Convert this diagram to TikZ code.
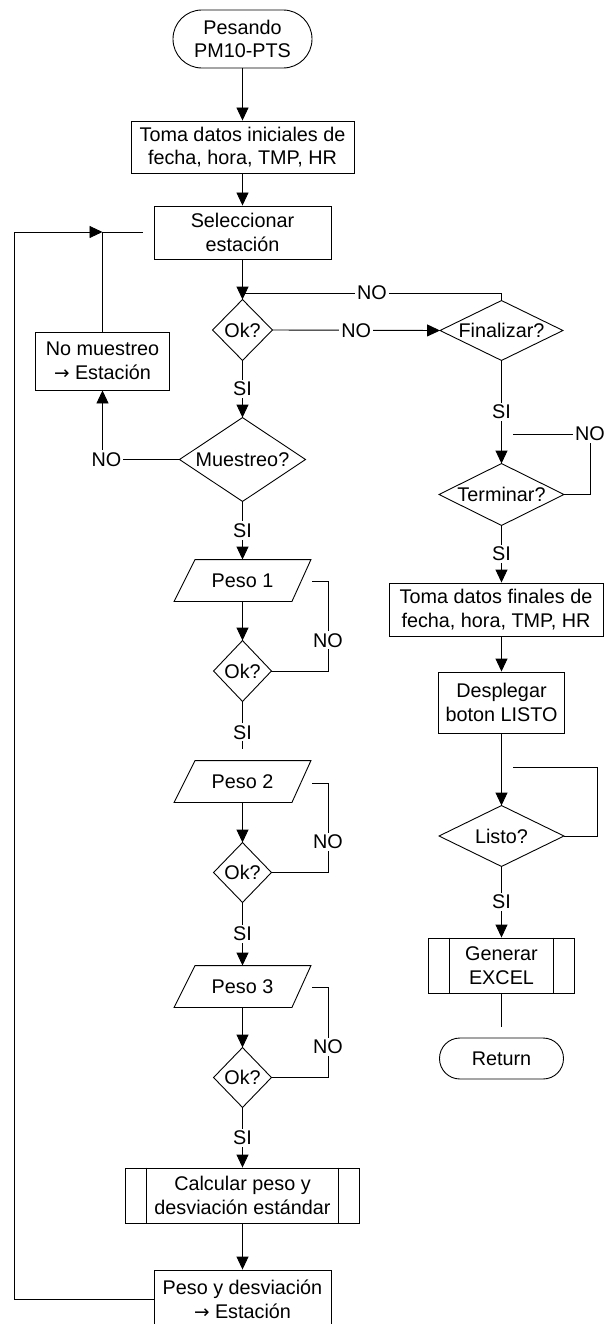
\documentclass[tikz,border=0pt]{standalone}
\usepackage{fontspec}
\setmainfont{Liberation Sans}
\newfontfamily\arrfont{DejaVu Sans}
\usetikzlibrary{arrows.meta}
\newcommand{\toarr}{{\arrfont\fontsize{18.5}{23.8}\selectfont →}}
\begin{document}
\begin{tikzpicture}[x=1pt,y=-1pt, line width=0.9pt,
  base/.style={font=\fontsize{19.8}{23.8}\selectfont, align=center, inner sep=0pt},
  sz/.style 2 args={minimum width=#1pt, minimum height=#2pt},
  proc/.style={base, draw},
  term/.style={base, draw, rounded corners=#1pt},
  shp/.style={base},
  lab/.style={base, fill=white, inner sep=2pt},
  arr/.style={-{Triangle[length=13pt,width=12pt]}}]
\useasboundingbox (0,0) rectangle (604,1324);
\clip (0,0) rectangle (604,1324);
% nodes
\node[term=28.9, sz={139}{58}] (start) at (242.5,39) {Pesando\\PM10-PTS};
\node[proc, sz={223}{52}] (b1) at (242.5,147) {Toma datos iniciales de\\fecha, hora, TMP, HR};
\node[proc, sz={177}{53}] (b2) at (242.5,232.5) {Seleccionar\\estación};
\node[shp, sz={59}{60}] (ok0) at (242.5,330) {Ok?};
\node[shp, sz={122}{59}] (fin) at (501.5,330.5) {Finalizar?};
\node[shp, sz={124}{61}] (ter) at (501.5,494.5) {Terminar?};
\node[proc, sz={214}{53}] (b3) at (496,609.5) {Toma datos finales de\\fecha, hora, TMP, HR};
\node[proc, sz={126}{61}] (b4) at (501.5,702.5) {Desplegar\\boton LISTO};
\node[shp, sz={124}{60}] (listo) at (501.5,836) {Listo?};
\node[proc, sz={146}{55}] (gen) at (501.5,965.5) {Generar\\EXCEL};
\node[term=20.4, sz={124}{41}] (ret) at (501.5,1058.5) {Return};
\node[proc, sz={134}{58}] (nom) at (102.5,361) {No muestreo\\\toarr\ Estación};
\node[shp, sz={125}{83}] (mue) at (242.5,459.5) {Muestreo?};
\node[shp, sz={136}{41}] (p1) at (242.5,580.5) {Peso 1};
\node[shp, sz={57}{60}] (ok1) at (242.5,671) {Ok?};
\node[shp, sz={136}{41}] (p2) at (242.5,781.5) {Peso 2};
\node[shp, sz={57}{59}] (ok2) at (242.5,872.5) {Ok?};
\node[shp, sz={136}{41}] (p3) at (242.5,986.5) {Peso 3};
\node[shp, sz={57}{59}] (ok3) at (242.5,1077.5) {Ok?};
\node[proc, sz={234}{55}] (calc) at (242.5,1195.5) {Calcular peso y\\desviación estándar};
\node[proc, sz={177}{58}] (pyd) at (242.5,1299) {Peso y desviación\\\toarr\ Estación};
% shapes
\foreach \n in {ok0,fin,ter,listo,mue,ok1,ok2,ok3}
  \draw (\n.north) -- (\n.east) -- (\n.south) -- (\n.west) -- cycle;
\foreach \n in {p1,p2,p3}
  \draw ([xshift=21pt]\n.north west) -- (\n.north east) -- ([xshift=-19pt]\n.south east) -- (\n.south west) -- cycle;
\foreach \n in {calc,gen}
  \draw ([xshift=21.5pt]\n.north west) -- ([xshift=21.5pt]\n.south west)
        ([xshift=-21.5pt]\n.north east) -- ([xshift=-21.5pt]\n.south east);
% coordinates
\coordinate (j0) at (242.5,293);
\coordinate (t1) at (590,434); \coordinate (t2) at (513,434);
\coordinate (l1) at (597,767); \coordinate (l2) at (513,767);
\coordinate (g1) at (501.5,1027);
\coordinate (j1) at (102.5,232); \coordinate (j2) at (143,232); \coordinate (lx) at (14,232);
\coordinate (q1) at (328,581); \coordinate (r1) at (312,581);
\coordinate (q2) at (328,783); \coordinate (r2) at (312,783);
\coordinate (q3) at (328,987); \coordinate (r3) at (312,987);
\coordinate (s1) at (242.5,749);
% connectors
\draw[arr] (start.south) -- (b1.north);
\draw[arr] (b1.south) -- (b2.north);
\draw[arr] (b2.south) -- (ok0.north);
\draw (fin.north) |- node[lab,pos=0.75]{NO} (j0);
\draw[arr] (ok0.east) -- node[lab]{NO} (fin.west);
\draw[arr] (fin.south) -- node[lab]{SI} (ter.north);
\draw (ter.east) -| (t1) node[lab]{NO} -- (t2);
\draw[arr] (ter.south) -- node[lab]{SI} (ter.south |- b3.north);
\draw[arr] (b4.north |- b3.south) -- (b4.north);
\draw[arr] (b4.south) -- (listo.north);
\draw (listo.east) -| (l1) -- (l2);
\draw[arr] (listo.south) -- node[lab]{SI} (gen.north);
\draw (gen.south) -- (g1);
\draw[arr] (ok0.south) -- node[lab]{SI} (mue.north);
\draw[arr] (mue.west) -| node[lab,pos=0.5,xshift=4pt]{NO} (nom.south);
\draw (nom.north) -- (j1);
\draw[arr] (pyd.west) -| (lx) -- (j1);
\draw (j1) -- (j2);
\draw[arr] (mue.south) -- node[lab]{SI} (p1.north);
\draw[arr] (p1.south) -- (ok1.north);
\draw (ok1.east) -| node[lab,pos=0.67]{NO} (q1) -- (r1);
\draw (ok1.south) -- node[lab,pos=0.65]{SI} (s1);
\draw[arr] (p2.south) -- (ok2.north);
\draw (ok2.east) -| node[lab,pos=0.67]{NO} (q2) -- (r2);
\draw[arr] (ok2.south) -- node[lab]{SI} (p3.north);
\draw[arr] (p3.south) -- (ok3.north);
\draw (ok3.east) -| node[lab,pos=0.67]{NO} (q3) -- (r3);
\draw[arr] (ok3.south) -- node[lab]{SI} (calc.north);
\draw[arr] (calc.south) -- (pyd.north);
\end{tikzpicture}
\end{document}
